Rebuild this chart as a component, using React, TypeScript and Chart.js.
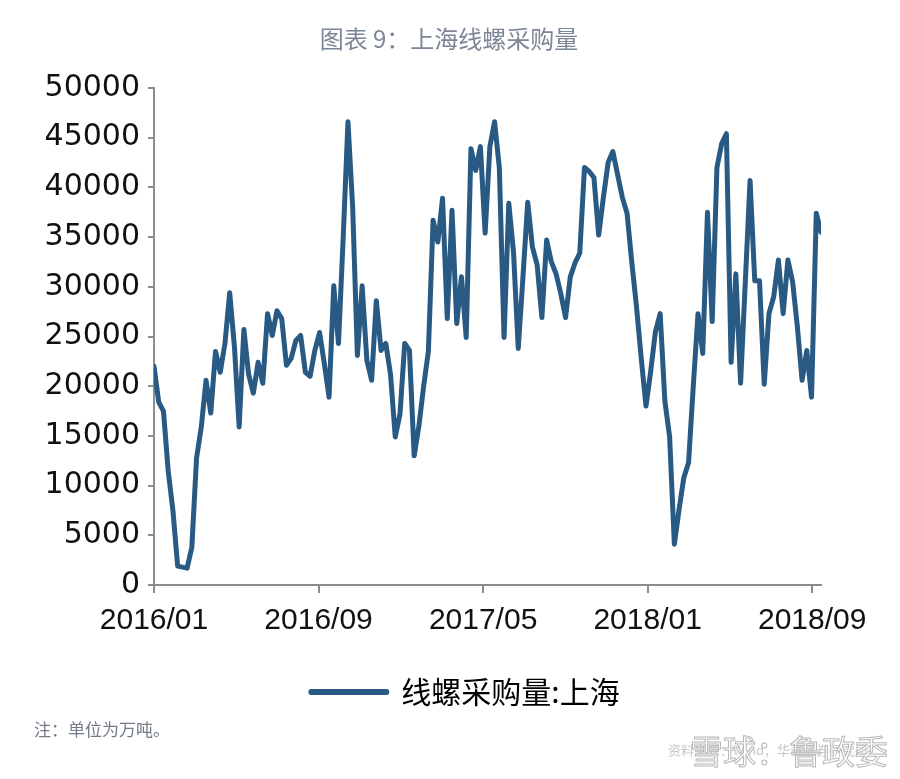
import React, { useEffect, useRef } from "react";
import { Chart, registerables } from "chart.js";

Chart.register(...registerables);

// Weekly series, first week = 2016/01
const TITLE = "图表 9：上海线螺采购量";
const SERIES_NAME = "线螺采购量:上海";
const NOTE = "注：单位为万吨。";
const WATERMARK = "雪球：鲁政委";
const SOURCE = "资料来源：Wind，华泰证券研究所";

const tickLabels = ["2016/01", "2016/09", "2017/05", "2018/01", "2018/09"];
const tickMonths = [0, 8, 16, 24, 32];
const WEEK_IN_MONTHS = 7 / 30.4375;

const yTicks = [0, 5000, 10000, 15000, 20000, 25000, 30000, 35000, 40000, 45000, 50000];

const values2016a = [
  22000, 18400, 17500, 11500, 7500, 1900, 1800, 1700, 3800, 12800,
  15900, 20600, 17300, 23500, 21400, 24300, 29400, 24000, 15900, 25700,
];
const values2016b = [
  21200, 19300, 22400, 20300, 27300, 25100, 27600, 26800, 22100, 22800,
  24600, 25100, 21400, 21000, 23600, 25400, 22300, 18900, 30100, 24300,
  35000, 46600, 38000, 23100, 30100, 22600, 20600, 28600, 23600, 24300,
  21200, 14900, 17200, 24300, 23600, 13000, 16000, 20000, 23500, 36700,
];
const values2017 = [
  34500, 38900, 26800, 37700, 26300, 31000, 24900, 43900, 41700, 44100,
  35400, 44100, 46600, 42000, 24900, 38400, 33500, 23800, 31000, 38500,
  34000, 32200, 26900, 34700, 32500, 31300, 29300, 26900, 31000, 32400,
  33400, 42000, 41600, 41000, 35200, 39000, 42500, 43600, 41300, 39000,
];
const values2018 = [
  37400, 32500, 28000, 22800, 18000, 21500, 25500, 27300, 18500, 14900,
  4100, 7600, 10800, 12300, 20000, 27300, 23300, 37500, 26500, 42000,
  44400, 45400, 22400, 31300, 20300, 30500, 40700, 30600, 30600, 20200,
  27300, 29000, 32700, 27300, 32700, 30500, 26000, 20600, 23600, 18900,
  37400, 35500,
];
const values = [...values2016a, ...values2016b, ...values2017, ...values2018];

const LINE_COLOR = "#285a83";
const AXIS_COLOR = "#8c8c8c";

// shifts the bottom legend so it sits where the reference has it
const legendShift = {
  id: "legendShift",
  afterLayout(chart: any) {
    if (chart.legend) {
      chart.legend.left += 55;
      chart.legend.right += 55;
    }
  },
};

export default function App() {
  const ref = useRef<HTMLCanvasElement | null>(null);

  useEffect(() => {
    if (!ref.current) return;
    const points = values.map((v, i) => ({ x: i * WEEK_IN_MONTHS, y: v }));
    const chart = new Chart(ref.current, {
      type: "line",
      data: {
        datasets: [
          {
            label: SERIES_NAME,
            data: points,
            borderColor: LINE_COLOR,
            backgroundColor: LINE_COLOR,
            borderWidth: 5,
            pointRadius: 0,
            tension: 0,
            borderJoinStyle: "round",
            borderCapStyle: "round",
          },
        ],
      },
      plugins: [legendShift],
      options: {
        animation: false,
        responsive: false,
        maintainAspectRatio: false,
        layout: { padding: { left: 0, right: 79, top: 88, bottom: 62 } },
        plugins: {
          title: { display: false },
          legend: {
            display: true,
            position: "bottom",
            labels: {
              usePointStyle: true,
              pointStyle: "line",
              pointStyleWidth: 75,
              boxHeight: 30,
              padding: 10,
              color: "#000",
              font: { family: "'Noto Sans CJK SC', serif", size: 30 },
              generateLabels: (c: any) => {
                const items = Chart.defaults.plugins.legend.labels.generateLabels(c);
                return items.map((it: any) => ({ ...it, lineWidth: 6, lineCap: "round", pointStyle: "line" }));
              },
            },
          },
          tooltip: { enabled: false },
        },
        scales: {
          x: {
            type: "linear",
            min: 0,
            max: (values.length - 1) * WEEK_IN_MONTHS,
            afterBuildTicks: (scale: any) => {
              scale.ticks = tickMonths.map((v) => ({ value: v }));
            },
            afterFit: (scale: any) => {
              scale.height = 82;
            },
            ticks: {
              autoSkip: false,
              maxRotation: 0,
              color: "#111",
              padding: 10,
              font: { family: "'Liberation Sans', Arial, sans-serif", size: 30 },
              callback: (v: any) => {
                const idx = tickMonths.indexOf(Number(v));
                return idx >= 0 ? tickLabels[idx] : "";
              },
            },
            grid: {
              drawOnChartArea: false,
              drawTicks: true,
              tickLength: 8,
              color: AXIS_COLOR,
              lineWidth: 2,
            },
            border: { display: true, color: AXIS_COLOR, width: 2 },
          },
          y: {
            type: "linear",
            min: 0,
            max: 50000,
            afterBuildTicks: (scale: any) => {
              scale.ticks = yTicks.map((v) => ({ value: v }));
            },
            afterFit: (scale: any) => {
              scale.width = 154;
            },
            ticks: {
              color: "#111",
              padding: 8,
              font: { family: "'DejaVu Sans', sans-serif", size: 30 },
              callback: (v: any) => String(v),
            },
            grid: {
              drawOnChartArea: false,
              drawTicks: true,
              tickLength: 6,
              color: AXIS_COLOR,
              lineWidth: 2,
            },
            border: { display: true, color: AXIS_COLOR, width: 2 },
          },
        },
      },
    });
    return () => chart.destroy();
  }, []);

  return (
    <div
      style={{
        position: "absolute",
        left: 0,
        top: 0,
        width: 900,
        height: 779,
        background: "#fff",
        overflow: "hidden",
      }}
    >
      <canvas ref={ref} width={900} height={779} style={{ display: "block" }} />
      <div
        style={{
          position: "absolute",
          left: 0,
          top: 24,
          width: 898,
          textAlign: "center",
          fontFamily: "'Noto Sans CJK SC', sans-serif",
          fontSize: 24,
          lineHeight: "28px",
          color: "#7b8696",
        }}
      >
        {TITLE}
      </div>
      <div
        style={{
          position: "absolute",
          left: 34,
          top: 716,
          fontFamily: "'Noto Sans CJK SC', sans-serif",
          fontSize: 17,
          color: "#737b87",
        }}
      >
        {NOTE}
      </div>
      <div
        style={{
          position: "absolute",
          left: 668,
          top: 740,
          fontFamily: "'Noto Sans CJK SC', sans-serif",
          fontSize: 13,
          color: "#c8c8c8",
        }}
      >
        {SOURCE}
      </div>
      <div
        style={{
          position: "absolute",
          left: 690,
          top: 726,
          fontFamily: "'Noto Sans CJK SC', sans-serif",
          fontSize: 33,
          color: "rgba(255,255,255,0.75)",
          WebkitTextStroke: "1px #b8b8b8",
        }}
      >
        {WATERMARK}
      </div>
    </div>
  );
}
